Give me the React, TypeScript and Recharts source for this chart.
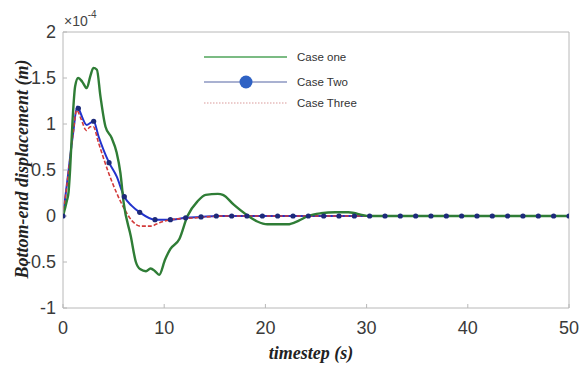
import { Line, LineChart, XAxis, YAxis } from "recharts";

// time (s), displacement (x1e-4 m)
const caseOne: [number, number][] = [
  [0, 0], [0.37, 0.16], [0.55, 0.26], [0.7, 0.5], [0.95, 1.05], [1.2, 1.41],
  [1.5, 1.5], [1.9, 1.46], [2.35, 1.39], [2.7, 1.52], [3.0, 1.61], [3.35, 1.59],
  [3.7, 1.3], [4.2, 0.97], [4.8, 0.85], [5.3, 0.69], [5.67, 0.47], [6.0, 0.14],
  [6.7, -0.22], [7.2, -0.5], [7.65, -0.58], [8.2, -0.6], [8.65, -0.57], [9.1, -0.6],
  [9.5, -0.64], [10.1, -0.47], [10.6, -0.36], [11.5, -0.25], [12.3, 0], [13.3, 0.16],
  [14.1, 0.23], [15.3, 0.24], [15.8, 0.23], [16.9, 0.12], [18.3, 0], [19.2, -0.06],
  [20.2, -0.09], [22.2, -0.09], [23.3, -0.05], [24.2, 0], [25.5, 0.03], [26.9, 0.04],
  [28.2, 0.04], [30.2, 0], [50, 0],
];

const caseTwo: [number, number][] = [
  [0, 0], [0.5, 0.45], [1.0, 0.9], [1.4, 1.19], [1.52, 1.17], [2.35, 0.99],
  [3.03, 1.03], [3.5, 0.87], [4.55, 0.58], [5.3, 0.43], [6.06, 0.21], [6.8, 0.11],
  [7.58, 0.04], [9.09, -0.04], [10.61, -0.04], [12.12, -0.02], [13.64, -0.01],
  [15.15, 0], [50, 0],
];

// sample points marked on the Case Two curve
const caseTwoMarkers: [number, number][] = [
  [0, 0], [1.52, 1.17], [3.03, 1.03], [4.55, 0.58], [6.06, 0.21], [7.58, 0.04],
  [9.09, -0.04], [10.61, -0.04], [12.12, -0.02], [13.64, -0.01], [15.15, 0],
  [16.67, 0], [18.18, 0], [19.7, 0], [21.21, 0], [22.73, 0], [24.24, 0],
  [25.76, 0], [27.27, 0], [28.79, 0], [30.3, 0], [31.82, 0], [33.33, 0],
  [34.85, 0], [36.36, 0], [37.88, 0], [39.39, 0], [40.91, 0], [42.42, 0],
  [43.94, 0], [45.45, 0], [46.97, 0], [48.48, 0], [50, 0],
];

const caseThree: [number, number][] = [
  [0, 0], [0.5, 0.44], [1.0, 0.9], [1.35, 1.15], [1.8, 1.05], [2.3, 0.93],
  [2.7, 0.97], [3.0, 0.97], [3.5, 0.8], [4.5, 0.47], [5.3, 0.25], [6.0, 0.09],
  [6.8, -0.05], [7.65, -0.11], [8.65, -0.11], [9.6, -0.07], [10.6, -0.04],
  [13, -0.02], [16, 0], [50, 0],
];

const timeTicks = [0, 10, 20, 30, 40, 50];
const dispTicks = [-1, -0.5, 0, 0.5, 1, 1.5, 2];

const toRows = (pts: [number, number][]) => pts.map(([t, v]) => ({ t, v }));

const FRAME = "#b8b8b8";
const tickFont = { fill: "#3a3a3a", fontSize: 18, fontFamily: "Liberation Sans, Arial, sans-serif" };
const labelFont = {
  fontFamily: "Liberation Serif, Times New Roman, serif",
  fontWeight: 700,
  fontStyle: "italic",
  fontSize: 18,
  color: "#222",
};

function LegendBox() {
  const rows = [
    { name: "Case one", y: 57, line: <line x1={0} x2={83} y1={0} y2={0} stroke="#4fa55a" strokeWidth={1.6} /> },
    {
      name: "Case Two",
      y: 82,
      line: (
        <>
          <line x1={0} x2={83} y1={0} y2={0} stroke="#8d97c2" strokeWidth={1.4} />
          <circle cx={42} cy={0} r={6.5} fill="#2f62c4" />
        </>
      ),
    },
    {
      name: "Case Three",
      y: 103,
      line: <line x1={0} x2={83} y1={0} y2={0} stroke="#d99a9a" strokeWidth={1.2} strokeDasharray="1.5 1.5" />,
    },
  ];
  return (
    <svg width={581} height={367} style={{ position: "absolute", left: 0, top: 0, pointerEvents: "none" }}>
      {rows.map((r) => (
        <g key={r.name}>
          <g transform={`translate(204, ${r.y})`}>{r.line}</g>
          <text x={297} y={r.y + 4} fontSize={11.5} fill="#333" fontFamily="Liberation Sans, Arial, sans-serif">
            {r.name}
          </text>
        </g>
      ))}
    </svg>
  );
}

export default function App() {
  return (
    <div style={{ position: "absolute", left: 0, top: 0, width: 581, height: 367, background: "#fff" }}>
      {/* axes get 1px of room each so Recharts still draws them */}
      <LineChart width={581} height={367} margin={{ top: 31, right: 11, bottom: 58, left: 62 }}>
        <XAxis
          xAxisId="b"
          dataKey="t"
          type="number"
          domain={[0, 50]}
          ticks={timeTicks}
          height={1}
          axisLine={{ stroke: FRAME }}
          tickLine={{ stroke: FRAME }}
          tickSize={-4}
          tickMargin={17}
          tick={tickFont}
          allowDataOverflow
        />
        <XAxis
          xAxisId="t"
          orientation="top"
          type="number"
          domain={[0, 50]}
          ticks={timeTicks}
          height={1}
          axisLine={{ stroke: FRAME }}
          tickLine={{ stroke: FRAME }}
          tickSize={-4}
          tick={false}
        />
        <YAxis
          yAxisId="l"
          type="number"
          domain={[-1, 2]}
          ticks={dispTicks}
          width={1}
          axisLine={{ stroke: FRAME }}
          tickLine={{ stroke: FRAME }}
          tickSize={-4}
          tickMargin={11}
          tick={tickFont}
          allowDataOverflow
        />
        <YAxis
          yAxisId="r"
          orientation="right"
          type="number"
          domain={[-1, 2]}
          ticks={dispTicks}
          width={1}
          axisLine={{ stroke: FRAME }}
          tickLine={{ stroke: FRAME }}
          tickSize={-4}
          tick={false}
        />
        <Line
          xAxisId="b"
          yAxisId="l"
          data={toRows(caseTwo)}
          dataKey="v"
          type="monotone"
          stroke="#2233cc"
          strokeWidth={2}
          dot={false}
          isAnimationActive={false}
        />
        <Line
          xAxisId="b"
          yAxisId="l"
          data={toRows(caseThree)}
          dataKey="v"
          type="monotone"
          stroke="#d23a3a"
          strokeWidth={1.6}
          strokeDasharray="4 2"
          dot={false}
          isAnimationActive={false}
        />
        <Line
          xAxisId="b"
          yAxisId="l"
          data={toRows(caseOne)}
          dataKey="v"
          type="monotone"
          stroke="#2f7d36"
          strokeWidth={2.4}
          dot={false}
          isAnimationActive={false}
        />
        <Line
          xAxisId="b"
          yAxisId="l"
          data={toRows(caseTwoMarkers)}
          dataKey="v"
          stroke="none"
          dot={{ r: 2.6, fill: "#1d2a7a", stroke: "none" }}
          isAnimationActive={false}
        />
      </LineChart>

      <LegendBox />

      <div style={{ position: "absolute", left: 64, top: 11, fontSize: 14, fontFamily: "Liberation Sans, Arial, sans-serif", color: "#444" }}>
        ×10<sup style={{ fontSize: 10, position: "relative", top: -2 }}>-4</sup>
      </div>
      <div
        style={{
          ...labelFont,
          position: "absolute",
          left: 22,
          top: 169,
          whiteSpace: "nowrap",
          transform: "translate(-50%, -50%) rotate(-90deg)",
        }}
      >
        Bottom-end displacement (m)
      </div>
      <div
        style={{
          ...labelFont,
          position: "absolute",
          left: 311,
          top: 353,
          whiteSpace: "nowrap",
          transform: "translate(-50%, -50%)",
        }}
      >
        timestep (s)
      </div>
    </div>
  );
}
